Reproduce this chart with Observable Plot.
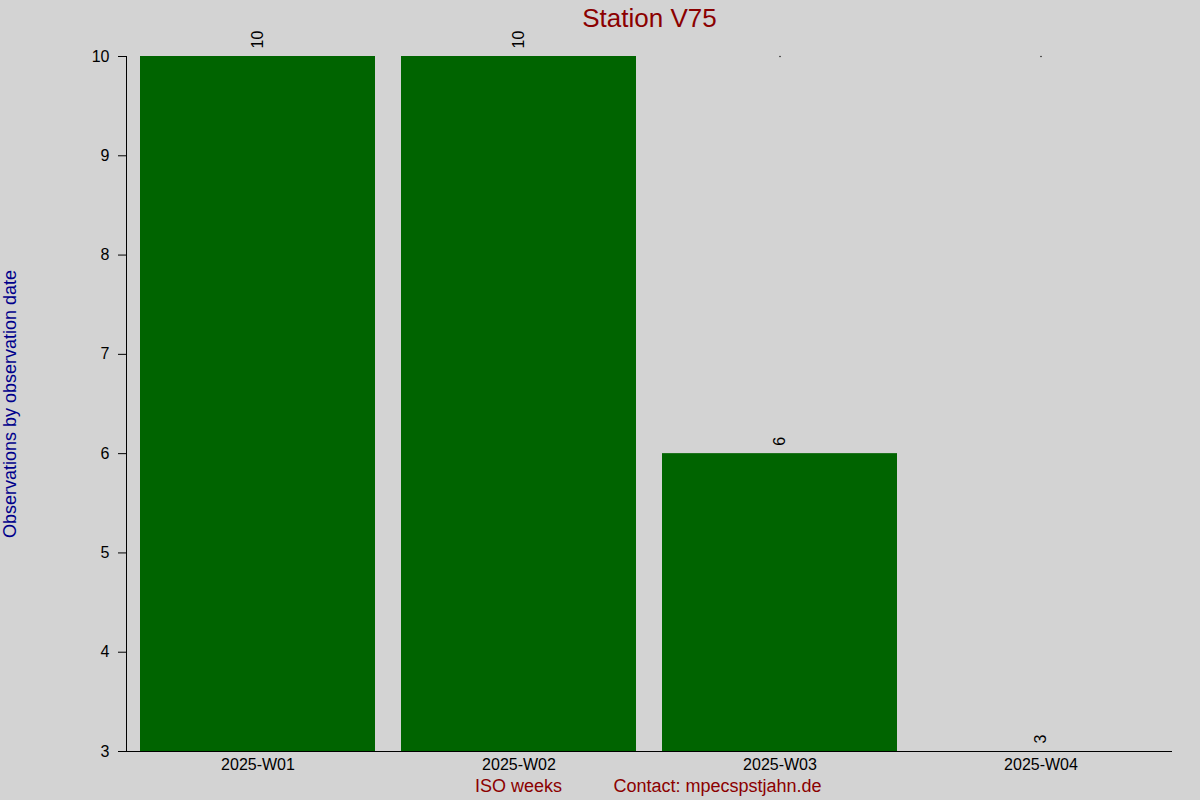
<!DOCTYPE html>
<html>
<head>
<meta charset="utf-8">
<script src="https://cdn.jsdelivr.net/npm/d3@7"></script>
<script src="https://cdn.jsdelivr.net/npm/@observablehq/plot@0.6"></script>
<style>
  html, body { margin: 0; padding: 0; background: #d3d3d3; }
  #chart svg { display: block; }
</style>
</head>
<body>
<div id="chart"></div>
<script>
const weeks = ["2025-W01", "2025-W02", "2025-W03", "2025-W04"];
const counts = [10, 10, 6, 3];
const topMarks = [null, null, 10, 10];
const yTicks = [3, 4, 5, 6, 7, 8, 9, 10];

const data = weeks.map((w, i) => ({week: w, count: counts[i], mark: topMarks[i]}));
const font = "Liberation Sans, Arial, Helvetica, sans-serif";

const chart = Plot.plot({
  width: 1200,
  height: 800,
  marginLeft: 126,
  marginRight: 28,
  marginTop: 56,
  marginBottom: 49,
  style: {background: "#d3d3d3", fontFamily: font, fontSize: "16px", color: "black"},
  x: {type: "band", domain: weeks, paddingInner: 0.1, paddingOuter: 0.05, label: null},
  y: {domain: [3, 10], label: null},
  marks: [
    Plot.barY(data, {x: "week", y1: 3, y2: "count", fill: "#006400"}),
    Plot.dot(data.filter(d => d.mark != null), {x: "week", y: "mark", r: 0.7, fill: "black", stroke: null}),
    Plot.text(data, {x: "week", y: "count", text: d => String(d.count), rotate: -90, textAnchor: "start", dy: -8, fill: "black", fontSize: 16}),
    Plot.ruleY([3], {stroke: "black", strokeWidth: 1}),
    Plot.frame({anchor: "left", stroke: "black"}),
    Plot.axisY({ticks: yTicks, tickSize: 8, tickPadding: 9, tickFormat: d => String(d), fontSize: 16, label: null}),
    Plot.axisX({tickSize: 0, tickPadding: 7, fontSize: 16, label: null}),
    Plot.text(["Station V75"], {frameAnchor: "top", lineAnchor: "middle", dy: -38, fill: "#8b0000", fontSize: 26}),
    Plot.text(["ISO weeks"], {frameAnchor: "bottom", lineAnchor: "middle", dx: -131, dy: 35, fill: "#8b0000", fontSize: 18}),
    Plot.text(["Contact: mpecspstjahn.de"], {frameAnchor: "bottom", lineAnchor: "middle", textAnchor: "start", dx: -36, dy: 35, fill: "#8b0000", fontSize: 18}),
    Plot.text(["Observations by observation date"], {frameAnchor: "left", textAnchor: "middle", lineAnchor: "middle", rotate: -90, dx: -116, fill: "#00008b", fontSize: 18})
  ]
});
document.getElementById("chart").appendChild(chart);
</script>
</body>
</html>
